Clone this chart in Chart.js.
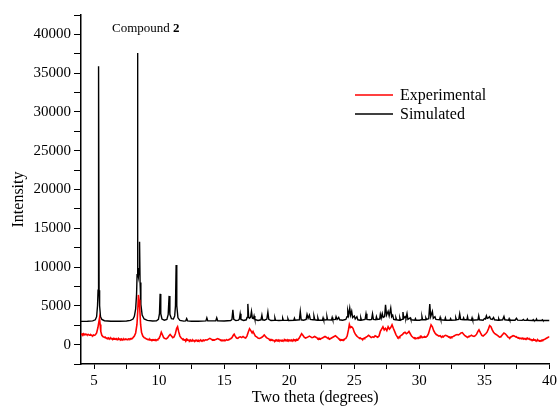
<!DOCTYPE html>
<html>
<head>
<meta charset="utf-8">
<script src="https://cdn.jsdelivr.net/npm/chart.js@4.4.1/dist/chart.umd.min.js"></script>
<style>
body { margin: 0; background: #fff; }
</style>
</head>
<body>
<canvas id="xrd" width="560" height="408"></canvas>
<script>
// 2theta / counts
const expPoints = [
  [4.0,1400],[4.05,1330],[4.1,1380],[4.15,1300],[4.2,1420],[4.25,1340],[4.3,1300],[4.35,1360],[4.4,1340],[4.45,1260],
  [4.5,1250],[4.55,1320],[4.6,1300],[4.65,1220],[4.7,1200],[4.75,1280],[4.8,1230],[4.85,1160],[4.9,1150],[4.95,1240],
  [5.0,1200],[5.1,1250],[5.2,1500],[5.3,2200],[5.38,3000],[5.42,3400],[5.47,2600],[5.52,1700],[5.6,1200],[5.7,1000],
  [5.8,950],[5.85,880],[5.9,900],[5.95,820],[6.0,850],[6.05,800],[6.1,870],[6.15,780],[6.2,800],[6.25,760],[6.3,830],
  [6.35,740],[6.4,760],[6.45,720],[6.5,800],[6.55,700],[6.6,740],[6.65,690],[6.7,780],[6.75,700],[6.8,720],[6.85,660],
  [6.9,760],[6.95,680],[7.0,700],[7.05,650],[7.1,740],[7.15,660],[7.2,680],[7.25,640],[7.3,720],[7.35,650],[7.4,660],
  [7.45,720],[7.5,700],[7.55,640],[7.6,680],[7.65,740],[7.7,720],[7.75,700],[7.8,760],[7.85,740],[7.9,800],[7.95,820],
  [8.0,900],[8.1,1100],[8.2,1500],[8.3,2600],[8.36,4300],[8.41,6400],[8.46,5800],[8.52,4500],[8.58,2600],[8.65,1600],
  [8.75,1100],[8.85,900],[8.95,820],[9.0,750],[9.05,720],[9.1,700],[9.15,620],[9.2,650],[9.25,600],[9.3,680],[9.35,590],
  [9.4,620],[9.45,580],[9.5,640],[9.55,570],[9.6,600],[9.65,560],[9.7,640],[9.75,580],[9.8,620],[9.85,600],
  [9.9,680],[10.0,800],[10.1,1200],[10.17,1600],[10.25,1300],[10.35,900],[10.45,800],[10.55,750],[10.65,850],
  [10.75,1100],[10.85,1300],[10.95,1100],[11.05,900],[11.15,1000],[11.25,1400],[11.35,2100],[11.42,2300],[11.5,1700],
  [11.6,1100],[11.7,850],[11.8,720],[11.85,600],[11.9,650],[11.95,580],[12.0,620],[12.05,540],[12.1,680],[12.15,560],
  [12.2,600],[12.25,520],[12.3,560],[12.35,500],[12.4,600],[12.45,530],[12.5,540],[12.55,480],[12.6,580],[12.65,500],
  [12.7,520],[12.75,470],[12.8,560],[12.85,490],[12.9,520],[12.95,460],[13.0,560],[13.05,480],[13.1,520],[13.15,500],
  [13.2,560],[13.25,480],[13.3,540],[13.35,520],[13.4,600],[13.45,540],[13.5,560],[13.55,600],
  [13.6,620],[13.7,600],[13.8,700],[13.9,800],[14.0,700],[14.05,640],[14.1,620],[14.15,560],[14.2,600],[14.25,570],
  [14.3,640],[14.4,700],[14.5,780],[14.6,700],[14.65,640],[14.7,620],[14.75,560],[14.8,580],[14.85,520],[14.9,560],
  [14.95,530],[15.0,600],[15.05,540],[15.1,560],[15.15,600],[15.2,620],[15.25,580],[15.3,600],[15.35,640],[15.4,680],
  [15.5,760],[15.6,900],[15.7,1200],[15.77,1350],[15.85,1100],[15.95,850],[16.05,800],[16.15,950],[16.25,1000],[16.35,900],
  [16.45,1050],[16.55,900],[16.65,850],[16.75,1100],[16.85,1600],[16.95,2050],[17.05,1800],[17.15,1500],[17.22,1700],
  [17.3,1400],[17.4,1100],[17.5,1000],[17.6,850],[17.7,800],[17.8,850],[17.9,950],[18.0,1100],[18.08,1250],[18.15,1100],
  [18.25,900],[18.35,800],[18.45,700],[18.5,620],[18.55,650],[18.6,580],[18.65,600],[18.7,530],[18.75,560],[18.8,500],
  [18.85,520],[18.9,470],[18.95,580],[19.0,500],[19.05,540],[19.1,480],[19.15,600],[19.2,510],[19.25,560],[19.3,490],
  [19.35,520],[19.4,470],[19.45,580],[19.5,500],[19.55,540],[19.6,490],[19.65,600],[19.7,520],[19.75,560],[19.8,500],
  [19.85,620],[19.9,530],[19.95,580],[20.0,500],[20.05,540],[20.1,490],[20.15,600],[20.2,520],[20.25,560],[20.3,510],
  [20.35,620],[20.4,560],[20.45,600],[20.5,560],[20.55,660],[20.6,580],[20.65,640],[20.75,800],[20.85,1100],
  [20.95,1400],[21.05,1200],[21.15,950],[21.25,850],[21.35,900],[21.45,1000],[21.55,1100],[21.65,1000],[21.75,900],
  [21.85,950],[21.95,1050],[22.05,950],[22.15,850],[22.2,760],[22.25,800],[22.3,700],[22.35,750],[22.4,690],[22.45,800],
  [22.55,850],[22.65,950],[22.75,1050],[22.85,950],[22.95,850],[23.0,760],[23.05,800],[23.1,700],[23.15,750],[23.25,850],
  [23.35,950],[23.45,1050],[23.55,1150],[23.65,1000],[23.75,850],[23.8,760],[23.85,700],[23.9,620],[23.95,650],
  [24.0,580],[24.05,600],[24.1,560],[24.15,650],[24.2,620],[24.25,700],[24.35,800],[24.45,1100],
  [24.55,1900],[24.62,2600],[24.7,2200],[24.8,2300],[24.9,2100],[25.0,1600],[25.1,1300],[25.2,1100],[25.3,950],
  [25.35,880],[25.4,850],[25.45,780],[25.5,800],[25.55,730],[25.6,750],[25.65,700],[25.7,800],[25.75,760],[25.8,850],
  [25.9,950],[26.0,1050],[26.1,1200],[26.2,1050],[26.3,900],[26.4,1000],[26.5,950],[26.6,1150],[26.7,1050],
  [26.8,950],[26.9,1100],[27.0,1700],[27.1,2000],[27.2,2300],
  [27.3,1900],[27.4,2100],[27.5,1800],[27.6,2300],[27.7,2000],[27.8,2200],[27.9,2550],[28.0,2100],[28.1,1700],
  [28.2,1300],[28.3,1000],[28.35,900],[28.4,950],[28.45,900],[28.5,1050],[28.6,1200],[28.7,1300],[28.8,1500],[28.9,1600],
  [29.0,1400],[29.1,1500],[29.2,1700],[29.3,1400],[29.4,1100],[29.5,950],[29.55,880],[29.6,900],[29.65,820],[29.7,850],
  [29.75,780],[29.8,800],[29.85,860],[29.9,900],[29.95,870],[30.0,950],[30.05,900],
  [30.1,1050],[30.15,980],[30.2,1000],[30.25,920],[30.3,950],[30.35,1000],[30.4,1050],[30.45,970],[30.5,1000],
  [30.6,1100],[30.7,1400],[30.8,2000],[30.9,2550],
  [31.0,2300],[31.1,1800],[31.2,1500],[31.3,1300],[31.4,1200],[31.5,1100],[31.6,1150],[31.65,1050],[31.7,1000],
  [31.75,980],[31.8,1050],[31.85,1000],[31.9,1100],[32.0,1200],[32.1,1150],[32.2,1050],[32.25,980],[32.3,1000],
  [32.35,920],[32.4,950],[32.45,900],[32.5,1000],[32.6,1050],[32.7,1150],
  [32.8,1250],[32.9,1300],[33.0,1250],[33.1,1350],[33.2,1500],[33.3,1550],[33.4,1350],[33.5,1150],[33.6,1050],
  [33.65,980],[33.7,950],[33.75,1000],[33.8,1050],[33.9,1100],[34.0,1200],[34.1,1100],[34.2,1050],[34.3,1150],
  [34.4,1350],[34.5,1700],[34.58,1900],[34.7,1500],[34.8,1200],[34.9,1100],[35.0,1250],[35.1,1400],[35.2,1600],
  [35.3,2000],[35.4,2450],[35.5,2300],[35.6,1900],[35.7,1600],[35.8,1400],[35.9,1300],[36.0,1200],[36.1,1050],
  [36.15,980],[36.2,1000],[36.25,1050],[36.3,1100],[36.4,1300],[36.5,1500],[36.6,1400],[36.7,1200],[36.8,1000],
  [36.85,920],[36.9,900],[36.95,860],[37.0,950],[37.1,1050],[37.2,1150],[37.3,1100],[37.4,1000],[37.45,940],
  [37.5,950],[37.55,880],[37.6,900],[37.65,840],[37.7,850],[37.75,780],[37.8,800],[37.85,760],[37.9,850],[37.95,780],
  [38.0,800],[38.05,720],[38.1,750],[38.15,700],[38.2,800],[38.25,760],[38.3,850],[38.35,780],[38.4,750],[38.45,680],
  [38.5,700],[38.55,620],[38.6,650],[38.65,580],[38.7,600],[38.75,560],[38.8,650],[38.85,580],[38.9,600],[38.95,520],
  [39.0,550],[39.05,500],[39.1,600],[39.15,520],[39.2,520],[39.25,470],[39.3,500],[39.35,480],[39.4,560],[39.45,530],
  [39.5,600],[39.6,650],[39.7,750],[39.8,850],[39.9,950],[40.0,1000]
]

const simPoints = [
  [4.0,3000],[4.5,3010],[4.9,3060],[5.1,3200],[5.2,3600],[5.27,5000],[5.31,7000],[5.35,35900],[5.39,7000],
  [5.43,5000],[5.5,3600],[5.6,3250],[5.8,3080],[6.3,3020],[7.0,3020],[7.5,3050],[7.8,3120],[8.0,3300],[8.1,3650],
  [8.2,4600],[8.27,6500],[8.31,9000],[8.34,37600],[8.37,9500],[8.41,8800],[8.46,9800],[8.5,13250],[8.54,8000],
  [8.6,5200],[8.7,3800],[8.85,3300],[9.1,3120],[9.5,3050],[9.8,3080],[9.95,3250],[10.03,4000],[10.08,6540],
  [10.13,4000],[10.22,3300],[10.4,3150],[10.6,3250],[10.7,3900],[10.77,6280],[10.83,3900],[10.95,3350],[11.1,3300],
  [11.2,3700],[11.26,5000],[11.31,10260],[11.36,5000],[11.45,3450],[11.6,3120],[11.9,3030],[12.05,3060],[12.12,3350],
  [12.19,3060],[12.5,3020],[13.0,3020],[13.6,3060],[13.67,3450],[13.74,3060],[14.36,3080],[14.43,3450],[14.5,3080],
  [15.0,3050],[15.5,3100],[15.6,3250],[15.67,4490],[15.74,3250],[15.9,3100],[16.1,3150],[16.17,3300],[16.23,3970],
  [16.29,3250],[16.5,3120],[16.7,3200],[16.76,3500],[16.82,5250],[16.88,3600],[16.95,3400],[17.03,3500],[17.1,4270],
  [17.17,3400],[17.25,3350],[17.3,3700],[17.36,3250],[17.6,3120],[17.83,3200],[17.9,3800],[17.96,3200],[18.1,3150],
  [18.28,3300],[18.36,4190],[18.43,3250],[18.6,3100],[18.85,3150],[18.9,3450],[18.95,3150],[19.2,3100],[19.45,3150],
  [19.5,3400],[19.55,3150],[19.85,3120],[19.9,3350],[19.95,3120],[20.35,3140],[20.4,3400],[20.45,3140],[20.78,3200],
  [20.85,4270],[20.92,3200],[21.1,3150],[21.3,3250],[21.37,3900],[21.45,3400],[21.55,3800],[21.62,3250],[21.83,3200],
  [21.9,3700],[21.97,3200],[22.15,3150],[22.2,3450],[22.25,3150],[22.55,3150],[22.6,3450],[22.65,3150],[22.85,3200],
  [22.9,3600],[22.95,3200],[23.25,3180],[23.3,3500],[23.35,3200],[23.55,3250],[23.6,3600],[23.68,3250],[23.8,3500],
  [23.87,3200],[24.1,3150],[24.35,3250],[24.44,3600],[24.5,4360],[24.57,3800],[24.65,4700],[24.72,3800],[24.8,4300],
  [24.87,3500],[25.0,3700],[25.07,3300],[25.2,3600],[25.27,3200],[25.45,3150],[25.5,3450],[25.55,3150],[25.83,3250],
  [25.9,3970],[25.97,3250],[26.2,3200],[26.33,3250],[26.4,3970],[26.47,3250],[26.65,3200],[26.7,3600],[26.76,3250],
  [26.95,3300],[27.0,3900],[27.07,3400],[27.15,4000],[27.22,3500],[27.33,3600],[27.4,5130],[27.48,3800],[27.6,4300],
  [27.68,3700],[27.8,4700],[27.87,3600],[27.95,3800],[28.03,3250],[28.15,3200],[28.2,3450],[28.25,3200],[28.45,3150],
  [28.5,3450],[28.55,3150],[28.67,3250],[28.74,4200],[28.8,3400],[28.9,3600],[28.97,3400],[29.05,4000],[29.12,3250],
  [29.3,3450],[29.35,3200],[29.65,3150],[29.7,3350],[29.75,3150],[30.0,3150],[30.15,3200],[30.2,3600],[30.25,3200],
  [30.45,3200],[30.5,3450],[30.55,3250],[30.72,3350],[30.8,5220],[30.87,3600],[31.0,4270],[31.07,3400],[31.2,3600],
  [31.27,3250],[31.55,3200],[31.6,3500],[31.65,3200],[31.95,3150],[32.0,3450],[32.05,3150],[32.35,3150],[32.4,3350],
  [32.45,3150],[32.75,3180],[32.8,3450],[32.85,3200],[33.03,3250],[33.1,3970],[33.17,3250],[33.35,3200],[33.4,3450],
  [33.45,3200],[33.65,3200],[33.7,3600],[33.75,3200],[34.0,3150],[34.05,3450],[34.1,3150],[34.5,3200],[34.56,3720],
  [34.62,3200],[34.9,3150],[35.0,3350],[35.08,3300],[35.15,3720],[35.22,3400],[35.3,3450],[35.4,3600],[35.47,3300],
  [35.6,3250],[35.7,3500],[35.77,3200],[36.05,3150],[36.1,3350],[36.15,3150],[36.4,3200],[36.5,3630],[36.57,3200],
  [36.85,3150],[36.9,3350],[36.95,3150],[37.35,3150],[37.46,3400],[37.55,3150],[37.9,3130],[38.0,3250],[38.05,3130],
  [38.25,3130],[38.3,3300],[38.35,3130],[38.7,3110],[38.75,3220],[38.8,3110],[38.95,3110],[39.0,3300],[39.05,3110],
  [39.4,3100],[39.45,3200],[39.5,3100],[40.0,3100]
]

const seriesNames = ['Experimental', 'Simulated']
const seriesColors = ['#ff0000', '#000000']
const xRange = [4, 40]
const yRange = [-2500, 42500]

const serif = "'Liberation Serif', 'Times New Roman', serif"
Chart.defaults.font.family = serif
Chart.defaults.color = '#000'

function toXY(points) {
    return points.map(p => ({x: p[0], y: p[1]}))
}

// legend drawn inside the plot, like the original figure
const insideLegend = {
    id: 'insideLegend',
    afterDraw(chart) {
        const ctx = chart.ctx
        ctx.save()
        ctx.font = '16px ' + serif
        ctx.textBaseline = 'middle'
        seriesNames.forEach((name, i) => {
            let y = 95 + i * 19
            ctx.strokeStyle = seriesColors[i]
            ctx.lineWidth = 1.3
            ctx.beginPath()
            ctx.moveTo(355, y)
            ctx.lineTo(393, y)
            ctx.stroke()
            ctx.fillStyle = '#000'
            ctx.fillText(name, 400, y + 1)
        })
        ctx.restore()
    }
}

const compoundLabel = {
    id: 'compoundLabel',
    afterDraw(chart) {
        const ctx = chart.ctx
        ctx.save()
        ctx.textBaseline = 'middle'
        ctx.fillStyle = '#000'
        ctx.font = '13px ' + serif
        ctx.fillText('Compound ', 112, 29)
        let w = ctx.measureText('Compound ').width
        ctx.font = 'bold 13px ' + serif
        ctx.fillText('2', 112 + w, 29)
        ctx.restore()
    }
}

let ctx = document.getElementById('xrd').getContext('2d')
new Chart(ctx, {
    type: 'line',
    data: {
        datasets: [{
            label: seriesNames[0],
            data: toXY(expPoints),
            borderColor: seriesColors[0],
            borderWidth: 1.6,
            pointRadius: 0,
            tension: 0
        }, {
            label: seriesNames[1],
            data: toXY(simPoints),
            borderColor: seriesColors[1],
            borderWidth: 1.4,
            pointRadius: 0,
            tension: 0
        }]
    },
    options: {
        responsive: false,
        animation: false,
        devicePixelRatio: 1,
        layout: {padding: {top: 15, right: 9, left: 0, bottom: 0}},
        plugins: {
            legend: {display: false},
            tooltip: {enabled: false}
        },
        scales: {
            x: {
                type: 'linear',
                min: xRange[0],
                max: xRange[1],
                afterFit: s => { s.height = 44 },
                ticks: {
                    stepSize: 2.5,
                    includeBounds: false,
                    autoSkip: false,
                    maxRotation: 0,
                    padding: 3,
                    font: {family: serif, size: 15},
                    callback: v => v % 5 === 0 ? String(v) : ''
                },
                grid: {drawOnChartArea: false, drawTicks: true, tickLength: 5, tickColor: '#000', tickWidth: 1},
                border: {color: '#000', width: 1.5},
                title: {display: true, text: 'Two theta (degrees)', font: {family: serif, size: 16}, padding: {top: 0, bottom: 1}}
            },
            y: {
                min: yRange[0],
                max: yRange[1],
                afterFit: s => { s.width = 81 },
                ticks: {
                    stepSize: 2500,
                    autoSkip: false,
                    padding: 3,
                    font: {family: serif, size: 15},
                    callback: v => v % 5000 === 0 ? String(v) : ''
                },
                grid: {drawOnChartArea: false, drawTicks: true, tickLength: 7, tickColor: '#000', tickWidth: 1},
                border: {color: '#000', width: 1.5},
                title: {display: true, text: 'Intensity     ', font: {family: serif, size: 16}, padding: {top: 9}}
            }
        }
    },
    plugins: [insideLegend, compoundLabel]
})
</script>
</body>
</html>
